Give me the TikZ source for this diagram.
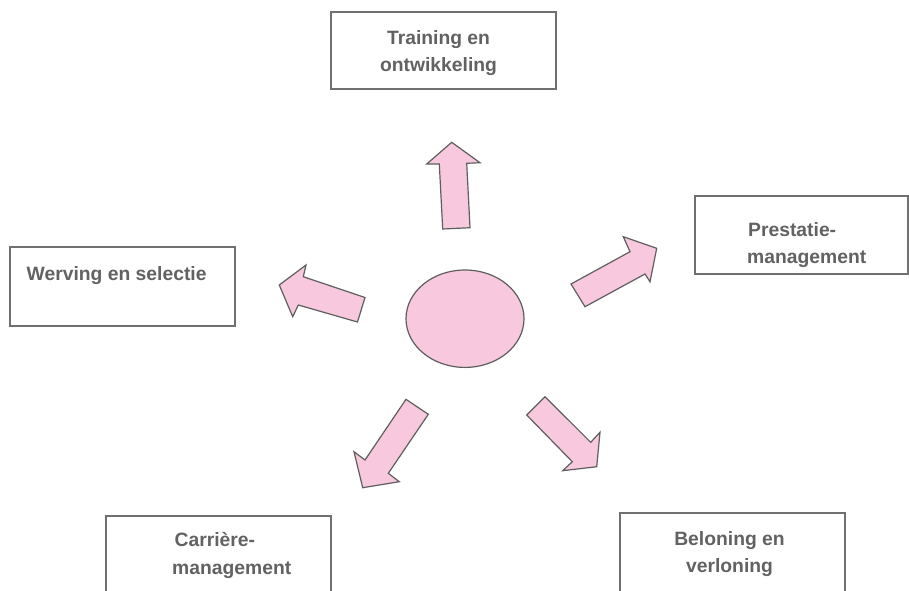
\documentclass[tikz,border=0pt]{standalone}
\usepackage{fontspec}
\setmainfont{Liberation Sans}
\usetikzlibrary{shapes.geometric}
\definecolor{boxline}{HTML}{707070}
\definecolor{txt}{HTML}{626262}
\definecolor{pinkfill}{HTML}{F8C9DE}
\definecolor{arrline}{HTML}{5E5E5E}
\tikzset{
  boxnode/.style={draw=boxline, line width=1.8pt, fill=white, inner sep=0pt},
  lbl/.style={text=txt, font=\fontsize{19.3}{24}\selectfont\bfseries, inner sep=0pt, anchor=base},
  lblw/.style={lbl, anchor=base west},
  bigarrow/.style={draw=arrline, fill=pinkfill, line width=1.2pt, line join=miter},
}
\begin{document}
\begin{tikzpicture}[x=1pt, y=-1pt]
\clip (0,0) rectangle (909,590);
\fill[white] (0,0) rectangle (909,590);

% boxes
\node[boxnode, minimum width=225pt, minimum height=77pt] (train) at (443.5,50.5) {};
\node[boxnode, minimum width=225pt, minimum height=79pt] (werv) at (122.5,286.5) {};
\node[boxnode, minimum width=213pt, minimum height=78pt] (prest) at (801.5,235) {};
\node[boxnode, minimum width=225pt, minimum height=100pt] (carr) at (218.5,566) {};
\node[boxnode, minimum width=225pt, minimum height=100pt] (belo) at (732.5,563) {};

% labels
\node[lbl] (train1) at (438.5,44.5) {Training en};
\node[lbl] (train2) at (438.5,71.7) {ontwikkeling};
\node[lblw] (werv1) at (26.5,280) {Werving en selectie};
\node[lblw] (prest1) at (748,236.7) {Prestatie-};
\node[lblw] (prest2) at (747,263.3) {management};
\node[lblw] (carr1) at (174.5,546.7) {Carrière-};
\node[lblw] (carr2) at (172,574) {management};
\node[lbl] (belo1) at (729.5,545) {Beloning en};
\node[lbl] (belo2) at (729.5,572.7) {verloning};

% centre ellipse
\node[ellipse, draw=arrline, fill=pinkfill, line width=1.2pt, minimum width=118pt, minimum height=97.4pt, inner sep=0pt] (core) at (465,318.7) {};

% arrows
\draw[bigarrow] (451.7,142.3) -- (480,162.7) -- (466.7,163.3) -- (470,227.7) -- (442.7,229) -- (439.3,164) -- (426.7,164) -- cycle;
\draw[bigarrow] (279.3,285) -- (306,265) -- (303.3,276.7) -- (365,297.5) -- (357.5,322) -- (298.3,305) -- (292.7,316.7) -- cycle;
\draw[bigarrow] (656.7,248.3) -- (650,281.7) -- (645,274) -- (585,306.7) -- (571,284) -- (630,251.7) -- (623.3,236.7) -- cycle;
\draw[bigarrow] (362.7,487.7) -- (399.3,481.7) -- (388.3,473.3) -- (428.3,414.3) -- (406,399.3) -- (365,460) -- (354,451.7) -- cycle;
\draw[bigarrow] (596.7,466.7) -- (562.7,470.7) -- (572.3,461.7) -- (526.7,415) -- (545,396.7) -- (590.7,442.3) -- (600,432.3) -- cycle;
\end{tikzpicture}
\end{document}
